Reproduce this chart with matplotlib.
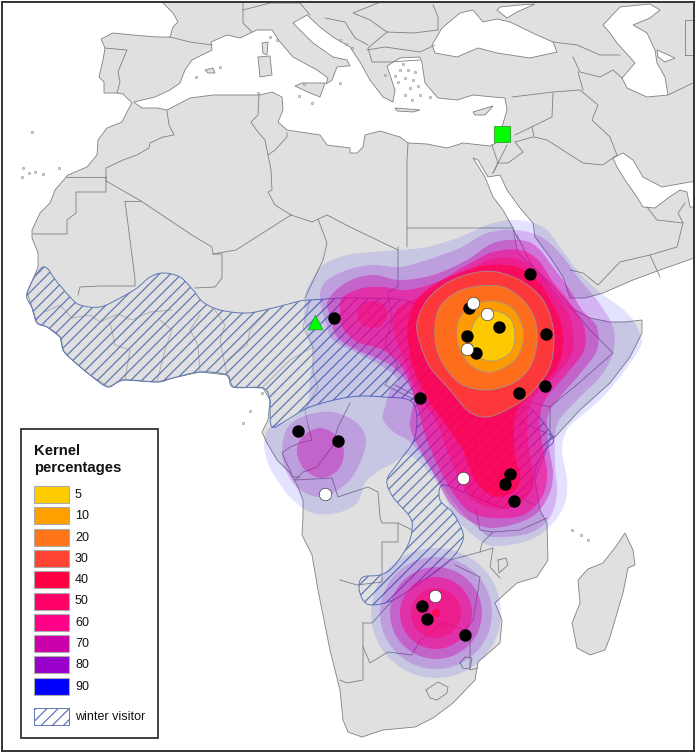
import matplotlib
matplotlib.use("Agg")
import matplotlib.pyplot as plt
from matplotlib.path import Path
from matplotlib.patches import PathPatch, Polygon, Circle, Rectangle

plt.rcParams["font.family"] = ["Liberation Sans", "DejaVu Sans"]
plt.rcParams["hatch.linewidth"] = 0.9

LAND = "#e0e0e0"
BORDER = "#808080"
HATCH = "#5f78b4"

# ---- map outlines (map units = image pixels)
ocean = [(163, 0), (163, 3), (173, 13), (178, 22), (173, 27), (170, 37), (157, 37), (133, 35), (113, 33), (101, 39),
         (105, 48), (103, 60), (99, 77), (104, 82), (104, 93), (117, 93), (123, 94), (132, 103), (128, 110), (122, 122),
         (107, 128), (98, 140), (97, 155), (87, 167), (68, 175), (55, 190), (50, 203), (40, 213), (32, 230), (32, 238),
         (38, 253), (38, 267), (27, 293), (33, 310), (37, 323), (47, 327), (60, 337), (63, 350), (70, 358), (90, 375),
         (108, 387), (123, 380), (157, 382), (173, 378), (200, 372), (227, 375), (233, 387), (263, 388), (270, 400),
         (268, 420), (262, 432), (267, 443), (277, 460), (290, 473), (297, 485), (303, 500), (303, 517), (302, 535),
         (312, 555), (318, 590), (330, 650), (340, 690), (343, 720), (348, 732), (362, 737), (383, 730), (415, 727),
         (433, 718), (453, 703), (475, 680), (478, 662), (500, 643), (502, 620), (495, 603), (507, 592), (517, 583),
         (537, 577), (548, 560), (547, 523), (540, 510), (535, 480), (540, 467), (550, 440), (555, 437), (580, 410),
         (610, 383), (630, 357), (642, 333), (642, 320), (625, 322), (610, 322), (590, 318), (575, 310), (565, 300),
         (547, 280), (518, 253), (513, 228), (503, 210), (493, 197), (485, 177), (473, 158), (478, 160),
         (488, 177), (500, 175), (507, 190), (520, 208), (533, 223), (535, 237), (550, 257), (563, 277), (570, 298),
         (585, 298), (603, 293), (633, 280), (660, 270), (697, 257), (697, 754), (0, 754), (0, 0)]
mediterranean = [(134, 102), (155, 97), (170, 90), (180, 83), (185, 70), (192, 60), (212, 50), (211, 42), (227, 35),
                 (240, 38), (257, 30), (272, 30), (280, 42), (293, 57), (317, 70), (328, 78), (326, 84), (332, 80),
                 (337, 67), (347, 66), (350, 66), (347, 60), (333, 57), (313, 43), (293, 23), (307, 15), (320, 27),
                 (333, 37), (350, 47), (360, 62), (370, 80), (383, 97), (393, 102), (395, 90), (387, 66), (400, 58),
                 (420, 57), (422, 63), (425, 83), (438, 98), (457, 100), (473, 95), (493, 97), (505, 98), (507, 110),
                 (502, 127), (496, 143), (490, 146), (463, 143), (447, 148), (427, 144), (408, 143), (400, 137),
                 (380, 131), (365, 135), (363, 147), (357, 153), (350, 153), (350, 148), (327, 145), (320, 135),
                 (287, 130), (278, 122), (283, 110), (282, 97), (272, 92), (260, 95), (213, 95), (190, 98), (167, 110),
                 (157, 108), (142, 108), (135, 103)]
black_sea = [(432, 45), (442, 28), (460, 13), (473, 10), (483, 22), (497, 19), (510, 22), (537, 35), (553, 42),
             (557, 52), (530, 58), (497, 53), (478, 48), (457, 57), (435, 53)]
azov = [(497, 10), (507, 18), (517, 12), (535, 4), (520, 5), (500, 7)]
caspian = [(603, 25), (620, 7), (650, 4), (660, 10), (650, 18), (633, 25), (647, 33), (655, 50), (657, 63), (665, 77),
           (668, 95), (647, 97), (627, 88), (622, 78), (635, 63), (617, 43), (610, 33)]
aral = [(657, 50), (675, 58), (665, 62), (658, 57)]
persian_gulf = [(613, 158), (623, 153), (633, 160), (643, 177), (662, 187), (690, 182), (697, 182), (697, 207),
                (690, 207), (687, 192), (680, 190), (668, 198), (655, 208), (643, 207), (637, 197), (625, 180),
                (617, 167)]

madagascar = [(625, 533), (633, 550), (635, 565), (628, 568), (623, 593), (610, 637), (605, 650), (590, 655),
              (577, 648), (572, 623), (580, 603), (578, 580), (588, 569), (603, 563), (617, 545)]
sicily = [(295, 86), (302, 83), (325, 83), (320, 97), (310, 93)]
sardinia = [(258, 57), (270, 56), (272, 75), (260, 77)]
corsica = [(262, 43), (268, 42), (267, 55), (263, 53)]
mallorca = [(205, 70), (213, 68), (215, 73), (208, 73)]
cyprus = [(473, 112), (493, 106), (485, 115), (475, 115)]
crete = [(395, 108), (420, 110), (413, 112), (397, 111)]
islands = [madagascar, sicily, sardinia, corsica, mallorca, cyprus, crete]
small_islands = [(59, 168), (35, 172), (43, 174), (23, 168), (29, 173), (22, 177), (32, 132), (262, 393), (243, 423),
                 (250, 411), (572, 530), (581, 535), (588, 540), (196, 77), (220, 67), (400, 70), (405, 78), (410, 88),
                 (398, 82), (415, 72), (420, 95), (412, 100), (258, 93), (312, 103), (340, 83), (403, 64), (408, 70),
                 (395, 76), (413, 80), (418, 86), (405, 95), (430, 97), (385, 75), (340, 40), (346, 44), (352, 48),
                 (270, 37), (277, 40), (304, 84), (299, 96)]

borders = [
    [(167, 111), (169, 125), (174, 135), (163, 137), (150, 143), (149, 148), (137, 155), (123, 160), (106, 168), (106, 181)],
    [(66, 177), (106, 177)],
    [(106, 177), (106, 192), (76, 192), (76, 213), (67, 220), (67, 234), (33, 234)],
    [(106, 181), (141, 201), (195, 237), (212, 247), (213, 254), (236, 250), (291, 215)],
    [(125, 201), (141, 201)],
    [(125, 201), (135, 279), (135, 286), (100, 286), (80, 287), (78, 295)],
    [(213, 254), (222, 254), (222, 278), (215, 287), (195, 288)],
    [(291, 215), (312, 222), (327, 215), (350, 227), (398, 250)],
    [(259, 95), (258, 115), (251, 122), (258, 132), (265, 140), (268, 155)],
    [(287, 133), (287, 137), (275, 150), (268, 155), (271, 170), (272, 190), (268, 192), (275, 205), (291, 215)],
    [(318, 219), (327, 243), (323, 260), (305, 298)],
    [(408, 143), (407, 160), (407, 247)],
    [(398, 247), (398, 287), (388, 292), (392, 320), (385, 345), (398, 365), (385, 385), (415, 400)],
    [(407, 228), (513, 228), (518, 240)],
    [(517, 235), (530, 262), (543, 278), (560, 300)],
    [(543, 278), (535, 310), (525, 345), (505, 380), (490, 395), (465, 395)],
    [(560, 300), (575, 312), (590, 330), (613, 353), (580, 382), (550, 407), (550, 437)],
    [(550, 407), (520, 400), (505, 385)],
    [(470, 395), (480, 415), (465, 420), (420, 398), (395, 385)],
    [(517, 420), (555, 437)],
    [(480, 415), (475, 450), (478, 470), (495, 485), (535, 505)],
    [(308, 425), (312, 440), (300, 443), (290, 447), (282, 453), (293, 477), (300, 477)],
    [(350, 403), (338, 427), (332, 447), (317, 467), (303, 472), (295, 480)],
    [(295, 480), (332, 478), (338, 497), (368, 487), (378, 492), (380, 517), (382, 523), (398, 523), (412, 530)],
    [(340, 580), (357, 585), (382, 582), (382, 542), (398, 542), (398, 523)],
    [(363, 623), (363, 680), (347, 683), (340, 680)],
    [(363, 623), (372, 623), (393, 600)],
    [(363, 647), (370, 663), (388, 652), (412, 655), (420, 640), (443, 623), (465, 630)],
    [(470, 640), (470, 670), (478, 668)],
    [(420, 583), (450, 560), (480, 552)],
    [(455, 565), (480, 577), (477, 597), (473, 620), (465, 630)],
    [(547, 518), (520, 530), (493, 532), (482, 543), (480, 552), (493, 548), (490, 567), (500, 578)],
    [(476, 510), (480, 530), (493, 532)],
    [(426, 690), (438, 682), (448, 687), (447, 693), (437, 700), (430, 698), (426, 690)],
    [(460, 663), (465, 657), (472, 658), (470, 669), (463, 668), (460, 663)],
    [(498, 560), (506, 558), (508, 565), (499, 573), (498, 560)],
    [(512, 97), (553, 92), (580, 90), (598, 105), (592, 120), (610, 137), (617, 155), (603, 165), (583, 163), (547, 140),
     (534, 137), (532, 127)],
    [(578, 72), (583, 90)],
    [(553, 93), (552, 117), (515, 135)],
    [(515, 142), (533, 137)],
    [(515, 142), (523, 152), (508, 163), (497, 163)],
    [(492, 145), (498, 163), (493, 173)],
    [(507, 145), (493, 173)],
    [(647, 207), (657, 220), (683, 223), (677, 247), (650, 255), (620, 262), (598, 285), (583, 273), (570, 270)],
    [(650, 255), (660, 277)],
    [(683, 223), (678, 213), (685, 203)],
    [(553, 42), (577, 45), (600, 55), (620, 55)],
    [(573, 57), (580, 72), (600, 77), (613, 70), (622, 78)],
    [(668, 95), (693, 83)],
    [(685, 55), (694, 55)],
    [(685, 55), (685, 20), (694, 20)],
    [(170, 37), (190, 42), (212, 45)],
    [(105, 48), (127, 50), (122, 62), (118, 72), (120, 82), (117, 93)],
    [(243, 3), (243, 23), (252, 32)],
    [(243, 10), (270, 3), (300, 3), (310, 15)],
    [(325, 18), (345, 22), (355, 38), (368, 45)],
    [(387, 32), (413, 33), (438, 30)],
    [(387, 32), (370, 20), (353, 13), (378, 3)],
    [(433, 5), (438, 17), (438, 30)],
    [(367, 50), (385, 47), (420, 52), (435, 45)],
    [(387, 32), (368, 48), (372, 62), (390, 62), (420, 60)],
]

# borders under the hatching, fainter and more broken in the reference
hatch_borders = [
    [(45, 312), (60, 305), (72, 318), (90, 315), (100, 322), (118, 314), (132, 320), (150, 312), (172, 310)],
    [(110, 322), (115, 345), (130, 350), (125, 380)],
    [(160, 320), (172, 330), (165, 350), (157, 382)],
    [(200, 315), (190, 330), (198, 345), (200, 372)],
    [(215, 310), (225, 325), (220, 340), (227, 375)],
    [(270, 308), (250, 330), (247, 345), (227, 360)],
    [(310, 300), (303, 327), (313, 347), (313, 373), (318, 387), (305, 410), (308, 425)],
    [(262, 388), (290, 360), (313, 347)],
]

# ---- kernel contours, outermost first; a level can have more than one part
kernel_90 = [(305, 297), (310, 283), (323, 265), (347, 255), (373, 252), (400, 250), (427, 247), (460, 237), (487, 225),
             (510, 220), (530, 222), (547, 230), (560, 247), (577, 270), (597, 290), (620, 307), (633, 320), (642, 340),
             (637, 353), (623, 373), (603, 397), (580, 417), (567, 430), (562, 450), (567, 480), (565, 503), (553, 523),
             (530, 540), (493, 546), (473, 535), (455, 517), (445, 497), (437, 483), (420, 463), (407, 455), (390, 465),
             (377, 472), (365, 483), (357, 503), (337, 513), (313, 513), (293, 500), (277, 480), (268, 463), (264, 443),
             (270, 427), (290, 420), (307, 403), (310, 377), (313, 353), (305, 327)]
kernel_80 = [(320, 300), (325, 282), (347, 270), (373, 265), (400, 267), (427, 260), (460, 248), (487, 233), (517, 230),
             (543, 238), (563, 257), (580, 280), (597, 300), (613, 327), (613, 353), (600, 377), (577, 400), (557, 425),
             (555, 463), (557, 493), (550, 517), (530, 533), (493, 537), (480, 530), (460, 510), (443, 487), (427, 463),
             (410, 442), (395, 433), (383, 420), (385, 407), (390, 390), (398, 380), (383, 367), (357, 353), (333, 340),
             (327, 327)]
kernel_80b = [(282, 450), (288, 427), (307, 415), (333, 412), (357, 423), (366, 440), (360, 463), (347, 483), (323, 497),
              (300, 490), (287, 473)]
kernel_70 = [(328, 300), (347, 282), (373, 275), (400, 280), (433, 275), (467, 260), (493, 243), (520, 240), (537, 247),
             (553, 267), (570, 290), (582, 310), (597, 327), (597, 350), (583, 370), (560, 397), (548, 415), (548, 443),
             (553, 473), (548, 497), (530, 518), (493, 528), (468, 520), (450, 503), (437, 480), (420, 450), (410, 427),
             (413, 405), (413, 393), (403, 377), (387, 363), (357, 350), (337, 337), (330, 317)]
kernel_70b = [(297, 453), (302, 437), (320, 428), (338, 437), (344, 453), (338, 470), (322, 478), (305, 470)]
kernel_60 = [(340, 310), (343, 297), (363, 288), (383, 287), (407, 290), (437, 282), (467, 265), (493, 252), (520, 250),
             (538, 260), (553, 282), (570, 303), (584, 327), (584, 350), (570, 370), (547, 397), (540, 417), (542, 443),
             (547, 473), (542, 497), (523, 515), (493, 518), (470, 512), (453, 493), (440, 470), (427, 440), (420, 417),
             (413, 393), (402, 367), (383, 350), (357, 342), (342, 327)]
kernel_50 = [(393, 317), (402, 305), (417, 298), (447, 285), (473, 268), (493, 259), (517, 259), (537, 272), (553, 293),
             (568, 313), (573, 333), (572, 353), (558, 373), (537, 393), (528, 413), (528, 443), (533, 473), (530, 493),
             (513, 507), (493, 508), (473, 500), (460, 480), (448, 453), (437, 423), (420, 397), (407, 367), (395, 337)]
kernel_50b = [(357, 314), (361, 305), (372, 301), (384, 305), (387, 315), (383, 324), (372, 328), (361, 324)]
kernel_40 = [(408, 323), (417, 300), (437, 283), (467, 270), (490, 265), (517, 267), (537, 280), (550, 300), (562, 327),
             (562, 353), (553, 373), (533, 393), (517, 410), (514, 430), (515, 457), (520, 473), (517, 488), (500, 497),
             (487, 493), (473, 477), (463, 450), (447, 427), (427, 397), (413, 367), (408, 343)]
kernel_30 = [(417, 323), (427, 300), (447, 283), (473, 273), (497, 272), (523, 282), (543, 300), (553, 327), (553, 353),
             (547, 373), (527, 397), (500, 413), (483, 417), (467, 410), (450, 390), (430, 367), (420, 343)]
kernel_20 = [(435, 327), (440, 307), (457, 292), (480, 286), (503, 287), (523, 300), (535, 320), (537, 343), (530, 367),
             (513, 383), (487, 390), (463, 385), (447, 370), (437, 350)]
kernel_10 = [(457, 332), (460, 317), (473, 305), (493, 301), (512, 308), (522, 325), (523, 342), (515, 360), (493, 372),
             (473, 367), (460, 350)]
kernel_5 = [(471, 335), (477, 318), (493, 311), (510, 318), (515, 336), (510, 353), (493, 361), (477, 355)]

# southern cluster is a set of circles
south_centre = (436, 613)
south_levels = [90, 80, 70, 60, 50, 40]
south_radius = [65, 56, 46, 36, 25, 4]

levels = [90, 80, 70, 60, 50, 40, 30, 20, 10, 5]
level_alpha = [0.11, 0.2, 0.37, 0.5, 0.4, 0.65, 0.8, 0.88, 0.92, 0.95]
level_parts = [[kernel_90], [kernel_80, kernel_80b], [kernel_70, kernel_70b], [kernel_60], [kernel_50, kernel_50b],
               [kernel_40], [kernel_30], [kernel_20], [kernel_10], [kernel_5]]
level_color = {5: "#ffcc00", 10: "#ff9f00", 20: "#ff7518", 30: "#ff4433", 40: "#ff0044",
               50: "#ff0066", 60: "#ff0088", 70: "#cc00aa", 80: "#9900cc", 90: "#0000ff"}

winter_visitor = [(27, 293), (43, 267), (57, 282), (70, 297), (80, 305), (100, 307), (120, 298), (137, 288), (150, 277),
                  (163, 273), (180, 277), (193, 290), (203, 302), (220, 310), (247, 313), (273, 308), (300, 301),
                  (310, 300), (360, 298), (417, 305), (435, 350), (470, 400), (510, 410), (530, 408), (553, 438),
                  (545, 450), (537, 465), (530, 490), (520, 498), (510, 507), (500, 507), (470, 495), (443, 485),
                  (440, 500), (453, 513), (463, 533), (460, 547), (447, 563), (420, 583), (393, 600), (372, 605),
                  (363, 600), (359, 587), (363, 577), (380, 575), (393, 567), (407, 547), (412, 530), (410, 517),
                  (393, 497), (387, 480), (398, 463), (415, 437), (413, 403), (383, 397), (350, 397), (310, 407),
                  (287, 420), (272, 427), (270, 407), (270, 400), (263, 388), (233, 387), (227, 375), (200, 372),
                  (173, 378), (157, 382), (123, 380), (108, 387), (90, 375), (70, 358), (63, 350), (60, 337), (47, 327),
                  (37, 323), (32, 308)]

# sites
black_x = [530, 469, 499, 467, 476, 546, 545, 519, 420, 334, 298, 338, 510, 505, 514, 422, 427, 465]
black_y = [274, 308, 327, 336, 353, 334, 386, 393, 398, 318, 431, 441, 474, 484, 501, 606, 619, 635]
white_x = [473, 487, 467, 463, 325, 435]
white_y = [303, 314, 349, 478, 494, 596]
square_xy = (502, 134)
triangle_xy = (315, 322)


def smooth_patch(pts, **kw):
    # closed cubic spline that passes through the read points
    n = len(pts)
    verts = [pts[0]]
    codes = [Path.MOVETO]
    for i in range(n):
        p0, p1, p2, p3 = pts[i - 1], pts[i], pts[(i + 1) % n], pts[(i + 2) % n]
        verts.append((p1[0] + (p2[0] - p0[0]) / 6, p1[1] + (p2[1] - p0[1]) / 6))
        verts.append((p2[0] - (p3[0] - p1[0]) / 6, p2[1] - (p3[1] - p1[1]) / 6))
        verts.append(p2)
        codes += [Path.CURVE4, Path.CURVE4, Path.CURVE4]
    return PathPatch(Path(verts, codes), **kw)


fig = plt.figure(figsize=(6.97, 7.54), dpi=100)
ax = fig.add_axes([2 / 697, 1 - 751 / 754, 692 / 697, 749 / 754])
ax.set_xlim(2, 694)
ax.set_ylim(751, 2)
ax.set_xticks([])
ax.set_yticks([])
ax.set_facecolor(LAND)
for s in ax.spines.values():
    s.set_linewidth(1.4)
    s.set_edgecolor("#333333")
    s.set_zorder(20)

# sea on top of the land colour
for sea in [ocean, mediterranean, black_sea, azov, caspian, aral, persian_gulf]:
    ax.add_patch(Polygon(sea, closed=True, fc="white", ec=BORDER, lw=0.6, zorder=1))
for isl in islands:
    ax.add_patch(Polygon(isl, closed=True, fc=LAND, ec=BORDER, lw=0.6, zorder=2))
ax.scatter([p[0] for p in small_islands], [p[1] for p in small_islands], s=2.5, fc=LAND, ec=BORDER, lw=0.4, zorder=2)
for line in borders:
    ax.plot([p[0] for p in line], [p[1] for p in line], color=BORDER, lw=0.6, zorder=3)
for line in hatch_borders:
    ax.plot([p[0] for p in line], [p[1] for p in line], color="#a8a8a8", lw=0.6, zorder=3)

# winter range
ax.add_patch(smooth_patch(winter_visitor, fc="none", ec=HATCH, hatch="///", lw=0.7, zorder=4))

# kernels, painted from the outside in so the translucent layers build up
for lev, a, parts in zip(levels, level_alpha, level_parts):
    c = level_color[lev]
    for part in parts:
        ax.add_patch(smooth_patch(part, fc=c, ec="none", alpha=a, zorder=5))
    if lev in south_levels:
        r = south_radius[south_levels.index(lev)]
        ax.add_patch(Circle(south_centre, r, fc=c, ec="none", alpha=a, zorder=5))
    if lev <= 30:
        for part in parts:
            ax.add_patch(smooth_patch(part, fc="none", ec="#999999", lw=0.7, alpha=0.8, zorder=5))

ax.scatter(black_x, black_y, s=80, c="black", lw=0, zorder=8)
ax.scatter(white_x, white_y, s=80, c="white", ec="#222222", lw=0.4, zorder=9)
ax.scatter(*square_xy, marker="s", s=120, c="#00ff00", ec="#339933", lw=0.6, zorder=9)
ax.scatter(*triangle_xy, marker="^", s=110, c="#00ff00", ec="#339933", lw=0.6, zorder=9)

# legend box
ax.add_patch(Rectangle((21, 429), 137, 309, fc="white", ec="#333333", lw=1.3, zorder=10))
ax.text(34, 451, "Kernel", fontsize=10.7, fontweight="bold", va="center", color="#111111", zorder=11)
ax.text(34, 468, "percentages", fontsize=10.7, fontweight="bold", va="center", color="#111111", zorder=11)
for i, lev in enumerate(sorted(levels)):
    y = 486 + i * 21.3
    ax.add_patch(Rectangle((33.5, y), 35, 17, fc=level_color[lev], ec="#aaaaaa", lw=0.8, zorder=11))
    ax.text(75, y + 9, str(lev), fontsize=9, va="center", color="#111111", zorder=11)
ax.add_patch(Rectangle((33.5, 707.5), 35, 17.5, fc="white", ec=HATCH, hatch="///", lw=0.7, zorder=11))
ax.text(75, 716.5, "winter visitor", fontsize=9, va="center", color="#111111", zorder=11)

fig.savefig("out.png", dpi=100)
